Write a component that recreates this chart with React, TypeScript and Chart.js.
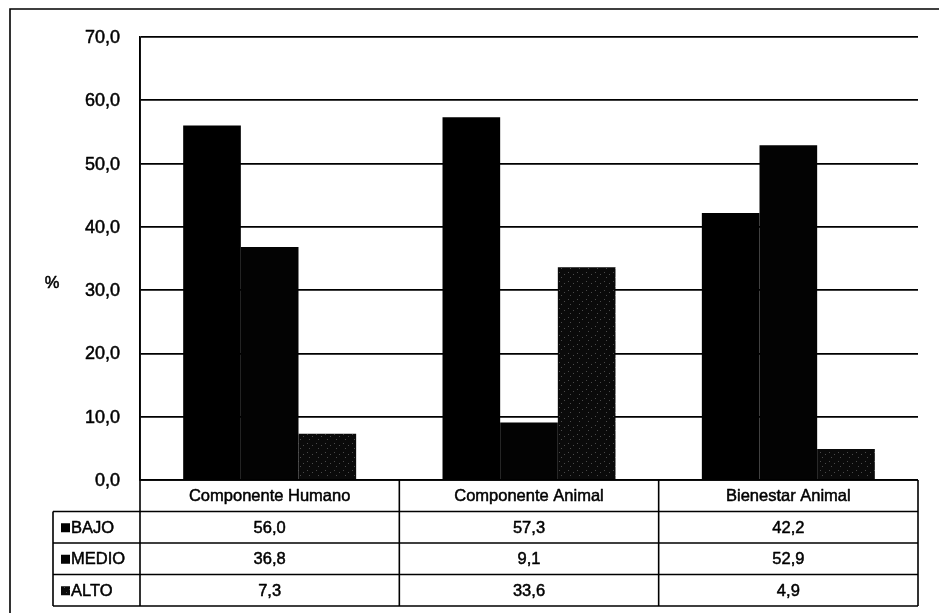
import React, { useEffect, useRef } from "react";
import { Chart, registerables } from "chart.js";

Chart.register(...registerables);

const categories = ["Componente Humano", "Componente Animal", "Bienestar Animal"];
const seriesNames = ["BAJO", "MEDIO", "ALTO"];
const bajo = [56.0, 57.3, 42.2];
const medio = [36.8, 9.1, 52.9];
const alto = [7.3, 33.6, 4.9];
const yMin = 0;
const yMax = 70;
const yStep = 10;
const yTitle = "%";

const FONT = "'Liberation Sans', Arial, sans-serif";

function fmt(v: number): string {
  return v.toFixed(1).replace(".", ",");
}

function heavyText(ctx: CanvasRenderingContext2D, s: string, x: number, y: number) {
  ctx.fillText(s, x, y);
  ctx.strokeText(s, x, y);
}

function makeSpeckle(ctx: CanvasRenderingContext2D): CanvasPattern | string {
  const c = document.createElement("canvas");
  c.width = 9;
  c.height = 9;
  const p = c.getContext("2d");
  if (!p) return "#0d0d0d";
  p.fillStyle = "#0a0a0a";
  p.fillRect(0, 0, 9, 9);
  p.fillStyle = "#4a4a4a";
  const dots = [[1, 2], [6, 4], [3, 7]];
  for (const [a, b] of dots) p.fillRect(a, b, 1, 1);
  return ctx.createPattern(c, "repeat") || "#0d0d0d";
}

const tablePlugin = {
  id: "dataTable",
  afterDraw(chart: any) {
    const ctx: CanvasRenderingContext2D = chart.ctx;
    const area = chart.chartArea;
    const yScale = chart.scales.y;
    const n = categories.length;
    const colW = (area.right - area.left) / n;
    const top = area.bottom;
    const rowH = 31.5;
    const rows = [top, top + rowH, top + 2 * rowH, top + 3 * rowH, top + 4 * rowH];
    const legendLeft = 53;
    ctx.save();
    ctx.strokeStyle = "#000";
    ctx.lineWidth = 1.6;

    ctx.beginPath();
    ctx.moveTo(10, 640);
    ctx.lineTo(10, 9);
    ctx.lineTo(960, 9);
    ctx.stroke();

    ctx.beginPath();
    ctx.moveTo(area.left, rows[0]);
    ctx.lineTo(area.right, rows[0]);
    for (let i = 1; i < rows.length; i++) {
      ctx.moveTo(legendLeft, rows[i]);
      ctx.lineTo(area.right, rows[i]);
    }
    ctx.moveTo(legendLeft, rows[1]);
    ctx.lineTo(legendLeft, rows[4]);
    ctx.moveTo(area.left, area.top);
    ctx.lineTo(area.left, rows[4]);
    for (let i = 1; i <= n; i++) {
      const x = area.left + i * colW;
      ctx.moveTo(x, rows[0]);
      ctx.lineTo(x, rows[4]);
    }
    ctx.stroke();

    ctx.fillStyle = "#000";
    ctx.lineWidth = 0.5;
    ctx.lineJoin = "round";

    // y tick labels from the y scale
    ctx.font = `18px ${FONT}`;
    ctx.textAlign = "right";
    ctx.textBaseline = "middle";
    for (const t of yScale.ticks) {
      const py = yScale.getPixelForValue(t.value);
      heavyText(ctx, fmt(t.value), area.left - 20, py + 1);
    }

    ctx.font = `16.5px ${FONT}`;
    ctx.textAlign = "center";
    for (let i = 0; i < n; i++) {
      const cx = area.left + (i + 0.5) * colW;
      heavyText(ctx, categories[i], cx, (rows[0] + rows[1]) / 2 + 1);
    }
    const series = [bajo, medio, alto];
    for (let r = 0; r < series.length; r++) {
      const cy = (rows[r + 1] + rows[r + 2]) / 2 + 1;
      for (let i = 0; i < n; i++) {
        const cx = area.left + (i + 0.5) * colW;
        ctx.textAlign = "center";
        ctx.fillStyle = "#000";
        heavyText(ctx, fmt(series[r][i]), cx, cy);
      }
      const ds = chart.data.datasets[r];
      ctx.fillStyle = ds.backgroundColor;
      ctx.fillRect(61, cy - 5, 9, 9);
      ctx.fillStyle = "#000";
      ctx.textAlign = "left";
      heavyText(ctx, seriesNames[r], 71, cy);
    }

    ctx.textAlign = "center";
    ctx.font = `16.5px ${FONT}`;
    heavyText(ctx, yTitle, 52, 283);
    ctx.restore();
  },
};

export default function App() {
  const ref = useRef<HTMLCanvasElement | null>(null);
  useEffect(() => {
    const canvas = ref.current;
    if (!canvas) return;
    const ctx = canvas.getContext("2d");
    if (!ctx) return;
    const altoFill = makeSpeckle(ctx);
    const chart = new Chart(canvas, {
      type: "bar",
      data: {
        labels: categories,
        datasets: [
          { label: seriesNames[0], data: bajo, backgroundColor: "#000000", borderWidth: 0 },
          { label: seriesNames[1], data: medio, backgroundColor: "#030303", borderWidth: 0 },
          { label: seriesNames[2], data: alto, backgroundColor: altoFill as any, borderWidth: 0 },
        ],
      },
      options: {
        responsive: false,
        animation: false,
        datasets: { bar: { barPercentage: 1, categoryPercentage: 0.667 } },
        layout: { padding: { left: 0, top: 37, right: 21, bottom: 133 } },
        plugins: { legend: { display: false }, tooltip: { enabled: false }, title: { display: false } },
        scales: {
          x: { display: false, grid: { display: false } },
          y: {
            min: yMin,
            max: yMax,
            afterFit: (s: any) => {
              s.width = 140;
            },
            border: { display: true, color: "#000", width: 1.6 },
            grid: { color: "#000", lineWidth: 1.8, drawTicks: false },
            ticks: {
              stepSize: yStep,
              display: false,
            },
          },
        },
      },
      plugins: [tablePlugin],
    });
    return () => chart.destroy();
  }, []);
  return (
    <canvas
      ref={ref}
      width={939}
      height={613}
      style={{ position: "absolute", left: 0, top: 0, width: 939, height: 613, background: "#fff" }}
    />
  );
}
